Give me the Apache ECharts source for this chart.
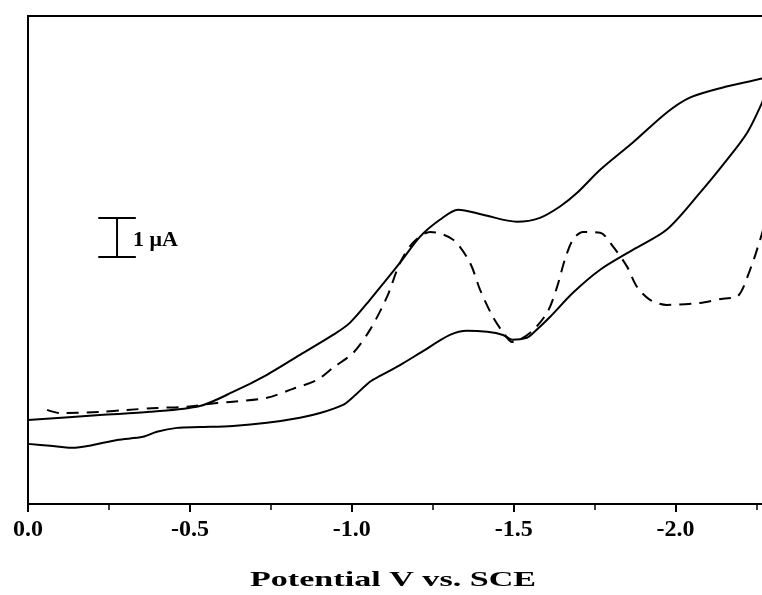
<!DOCTYPE html>
<html>
<head>
<meta charset="utf-8">
<script src="https://cdn.jsdelivr.net/npm/echarts@6/dist/echarts.min.js"></script>
<style>html,body{margin:0;padding:0;background:#fff;}#c{width:762px;height:595px;}</style>
</head>
<body>
<div id="c"></div>
<script>
// Potential (V vs. SCE) and current (µA, arbitrary offset)
const solidLoop = [
  [0,2.15],[-0.222,2.28],[-0.377,2.36],[-0.531,2.51],[-0.633,2.87],[-0.738,3.31],[-0.840,3.82],
  [-0.942,4.33],[-0.994,4.64],[-1.056,5.23],[-1.149,6.18],[-1.211,6.85],[-1.272,7.28],[-1.328,7.54],
  [-1.405,7.41],[-1.510,7.23],[-1.581,7.33],[-1.643,7.62],[-1.696,7.97],[-1.767,8.56],[-1.868,9.26],
  [-1.973,10.03],[-2.044,10.41],[-2.146,10.67],[-2.267,10.90],[-2.30,11.0],[-2.29,10.75],
  [-2.267,10.28],[-2.221,9.51],[-2.159,8.82],[-2.075,7.97],[-1.973,7.03],[-1.868,6.51],[-1.767,6.00],
  [-1.683,5.41],[-1.612,4.79],[-1.560,4.38],[-1.541,4.26],[-1.495,4.21],[-1.467,4.33],[-1.418,4.41],
  [-1.356,4.44],[-1.303,4.33],[-1.211,3.87],[-1.149,3.56],[-1.087,3.28],[-1.056,3.13],[-1.004,2.74],
  [-0.973,2.54],[-0.902,2.33],[-0.840,2.21],[-0.738,2.08],[-0.633,2.00],[-0.531,1.97],[-0.460,1.95],
  [-0.398,1.85],[-0.355,1.72],[-0.275,1.64],[-0.201,1.51],[-0.136,1.44],[-0.068,1.49],[0,1.54]
];
const dashedCurve = [
  [-0.059,2.41],[-0.099,2.33],[-0.222,2.36],[-0.306,2.41],[-0.398,2.46],[-0.491,2.49],[-0.584,2.59],
  [-0.633,2.62],[-0.738,2.72],[-0.818,2.95],[-0.893,3.18],[-0.942,3.49],[-1.004,3.87],[-1.056,4.46],
  [-1.109,5.31],[-1.149,6.18],[-1.189,6.69],[-1.242,6.97],[-1.313,6.77],[-1.365,6.18],[-1.396,5.49],
  [-1.436,4.79],[-1.473,4.33],[-1.495,4.15],[-1.550,4.38],[-1.603,4.90],[-1.634,5.56],[-1.658,6.26],
  [-1.683,6.77],[-1.714,6.97],[-1.767,6.95],[-1.807,6.59],[-1.850,6.08],[-1.881,5.56],[-1.921,5.23],
  [-1.973,5.10],[-2.075,5.15],[-2.146,5.26],[-2.190,5.31],[-2.230,6.00],[-2.261,6.77],[-2.29,7.6]
];
const xTicks = [0, -0.5, -1.0, -1.5, -2.0, -2.5];
const scaleBarX = -0.275, scaleBarHalfWidth = 0.058;
const scaleBarLow = 6.33, scaleBarHigh = 7.33; // 1 µA
const scaleBarText = '1 μA';
const xTitle = 'Potential V vs. SCE';

const serif = "'Liberation Serif','Times New Roman',serif";
const chart = echarts.init(document.getElementById('c'), null, {renderer:'canvas'});
chart.setOption({
  animation:false,
  backgroundColor:'#fff',
  grid:{left:28, top:16, bottom:91, width:809.5, containLabel:false, outerBoundsMode:'none',
    show:true, borderColor:'#000', borderWidth:2, backgroundColor:'transparent'},
  xAxis:{
    type:'value', inverse:true, min:-2.5, max:0, interval:0.5,
    axisLine:{show:true, onZero:false, lineStyle:{color:'#000', width:2}},
    axisTick:{show:true, inside:false, length:8, lineStyle:{color:'#000', width:2}},
    minorTick:{show:true, splitNumber:2, length:6, lineStyle:{color:'#000', width:1.5}},
    splitLine:{show:false},
    axisLabel:{margin:14, color:'#000', fontFamily:serif, fontWeight:'bold', fontSize:24,
      formatter:v=>v.toFixed(1)}
  },
  yAxis:{
    type:'value', min:0, max:12.5,
    axisLine:{show:true, lineStyle:{color:'#000', width:2}},
    axisTick:{show:false}, axisLabel:{show:false}, splitLine:{show:false}
  },
  graphic:[
    {type:'text', left:133, top:229, style:{text:scaleBarText, font:"bold 22px "+serif, fill:'#000'}},
    {type:'text', x:393, y:580, scaleX:1.55,
      style:{text:xTitle, font:"bold 22px "+serif, fill:'#000', textAlign:'center', textVerticalAlign:'middle'}}
  ],
  series:[
    {type:'line', data:solidLoop, smooth:0.3, symbol:'none', lineStyle:{color:'#000', width:2}},
    {type:'line', data:dashedCurve, smooth:0.3, symbol:'none', lineStyle:{color:'#000', width:2, type:[12,8]}},
    {type:'line', data:[[scaleBarX,scaleBarLow],[scaleBarX,scaleBarHigh]], symbol:'none',
      lineStyle:{color:'#000', width:2},
      markLine:{silent:true, symbol:'none', label:{show:false}, lineStyle:{color:'#000', width:2, type:'solid'},
        data:[
          [{coord:[scaleBarX+scaleBarHalfWidth, scaleBarLow]},{coord:[scaleBarX-scaleBarHalfWidth, scaleBarLow]}],
          [{coord:[scaleBarX+scaleBarHalfWidth, scaleBarHigh]},{coord:[scaleBarX-scaleBarHalfWidth, scaleBarHigh]}]
        ]}}
  ]
});
</script>
</body>
</html>
